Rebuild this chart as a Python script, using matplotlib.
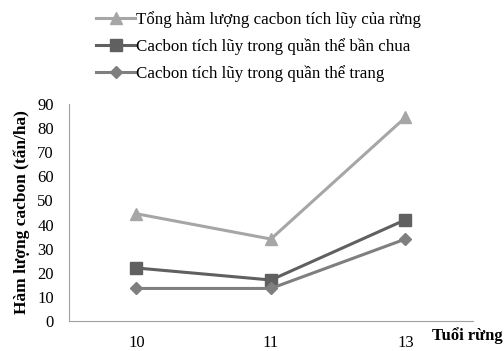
import numpy as np
import matplotlib
matplotlib.use('Agg')
import matplotlib.pyplot as plt

plt.rcParams['font.family'] = ['Liberation Serif', 'DejaVu Serif']

ages = ['10', '11', '13']
tong = [44.5, 34, 84.5]
ban_chua = [22, 17, 42]
trang = [13.5, 13.5, 34]

labels = ['Tổng hàm lượng cacbon tích lũy của rừng',
          'Cacbon tích lũy trong quần thể bần chua',
          'Cacbon tích lũy trong quần thể trang']

fig = plt.figure(figsize=(5.04, 3.51), dpi=100)
ax = fig.add_axes([0.137, 0.0855, 0.801, 0.618])

x = np.arange(len(ages))
l1, = ax.plot(x, tong, color='#a6a6a6', lw=2.2, marker='^', ms=8)
l2, = ax.plot(x, ban_chua, color='#606060', lw=2.2, marker='s', ms=8)
l3, = ax.plot(x, trang, color='#7f7f7f', lw=2.2, marker='D', ms=6)

ax.set_xlim(-0.5, 2.5)
ax.set_ylim(0, 90)
ax.set_yticks(range(0, 91, 10))
ax.set_xticks(x)
ax.set_xticklabels(ages)
ax.tick_params(length=0, labelsize=12)
ax.tick_params(axis='x', pad=10)
ax.tick_params(axis='y', pad=11)
for s in ['top', 'right']:
    ax.spines[s].set_visible(False)
for s in ['left', 'bottom']:
    ax.spines[s].set_color('#a0a0a0')

ax.set_ylabel('Hàm lượng cacbon (tấn/ha)', fontsize=12.5, fontweight='bold', labelpad=5)
fig.text(0.857, 0.032, 'Tuổi rừng', fontsize=12, fontweight='bold')

fig.legend([l1, l2, l3], labels, loc='upper left', bbox_to_anchor=(0.178, 0.987),
           frameon=False, fontsize=12.2, handlelength=2.3, handletextpad=0.05,
           labelspacing=0.6, borderaxespad=0)

fig.savefig('out.png', dpi=100)
